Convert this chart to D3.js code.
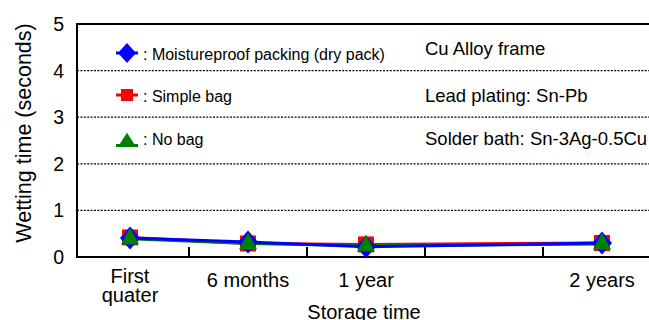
<!DOCTYPE html>
<html>
<head>
<meta charset="utf-8">
<script src="https://cdn.jsdelivr.net/npm/d3@7"></script>
<style>
  html, body { margin: 0; padding: 0; background: #fff; }
  svg { display: block; }
  text { font-family: "Liberation Sans", Arial, sans-serif; fill: #000; }
</style>
</head>
<body>
<svg id="chart" width="649" height="320"></svg>
<script>
// Storage periods (slot index on the x axis; slot 3 is an unused gap)
const periods = ["First quater", "6 months", "1 year", "2 years"];
const periodSlots = [0, 1, 2, 4];
const slotBoundaries = [0.5, 1.5, 2.5, 3.5];

// Wetting time in seconds for each packing condition
const dryPack = [0.41, 0.32, 0.22, 0.30];
const simpleBag = [0.42, 0.29, 0.27, 0.30];
const noBag = [0.39, 0.29, 0.24, 0.28];

const yTicks = [0, 1, 2, 3, 4, 5];
const seriesNames = [": Moistureproof packing (dry pack)", ": Simple bag", ": No bag"];
const notes = ["Cu Alloy frame", "Lead plating: Sn-Pb", "Solder bath: Sn-3Ag-0.5Cu"];

const svg = d3.select("#chart");
const plotLeft = 77, plotRight = 649, plotTop = 24, plotBottom = 257;

const x = d3.scaleLinear().domain([0, 4]).range([130, 602]);
const y = d3.scaleLinear().domain([0, 5]).range([plotBottom, plotTop]);

// dotted grid lines
svg.append("g").selectAll("line").data(yTicks.filter(v => v > 0 && v < 5)).join("line")
  .attr("x1", plotLeft).attr("x2", plotRight)
  .attr("y1", d => y(d)).attr("y2", d => y(d))
  .attr("stroke", "#000").attr("stroke-width", 1.3).attr("stroke-dasharray", "2,1.4");

// frame: top, left, bottom
svg.append("line").attr("x1", plotLeft).attr("x2", plotRight).attr("y1", plotTop).attr("y2", plotTop)
  .attr("stroke", "#000").attr("stroke-width", 2);
svg.append("line").attr("x1", plotLeft).attr("x2", plotLeft).attr("y1", plotTop - 1).attr("y2", plotBottom + 1)
  .attr("stroke", "#000").attr("stroke-width", 2);
svg.append("line").attr("x1", plotLeft - 1).attr("x2", plotRight).attr("y1", plotBottom).attr("y2", plotBottom)
  .attr("stroke", "#000").attr("stroke-width", 2);

// x tick marks between periods, pointing inward
svg.append("g").selectAll("line").data(slotBoundaries).join("line")
  .attr("x1", d => x(d)).attr("x2", d => x(d))
  .attr("y1", plotBottom).attr("y2", plotBottom - 10)
  .attr("stroke", "#000").attr("stroke-width", 2);

// y tick labels
svg.append("g").selectAll("text").data(yTicks).join("text")
  .attr("x", 64).attr("y", d => y(d) + 7)
  .attr("text-anchor", "end").attr("font-size", 19.5)
  .text(d => d);

// x tick labels
const xl = svg.append("g").selectAll("text").data(periods).join("text")
  .attr("text-anchor", "middle").attr("font-size", 20)
  .attr("x", (d, i) => x(periodSlots[i]))
  .attr("y", 287);
xl.each(function(d) {
  const t = d3.select(this);
  if (d === "First quater") {
    t.attr("y", 283);
    t.append("tspan").attr("x", t.attr("x")).text("First");
    t.append("tspan").attr("x", t.attr("x")).attr("dy", 18.5).text("quater");
  } else {
    t.text(d);
  }
});

// axis titles
svg.append("text").attr("x", 364).attr("y", 319).attr("text-anchor", "middle")
  .attr("font-size", 20).text("Storage time");
svg.append("text").attr("transform", "translate(31,133) rotate(-90)")
  .attr("text-anchor", "middle").attr("font-size", 21.5).text("Wetting time (seconds)");

// marker shapes
const diamond = (w, h) => `M0,${-h}L${w},0L0,${h}L${-w},0Z`;
const square = s => `M${-s},${-s}H${s}V${s}H${-s}Z`;
const triangle = (w, h) => `M0,${-h * 2 / 3}L${w},${h / 3}L${-w},${h / 3}Z`;

const series = [
  { name: seriesNames[1], values: simpleBag, color: "#ff0000", shape: square(8) , legendShape: square(6) },
  { name: seriesNames[2], values: noBag, color: "#008000", shape: triangle(9, 17), legendShape: triangle(9, 14) },
  { name: seriesNames[0], values: dryPack, color: "#0000ff", shape: diamond(10, 11.5), legendShape: diamond(9, 10) }
];

const line = d3.line().x((d, i) => x(periodSlots[i])).y(d => y(d));

svg.append("g").selectAll("path").data(series).join("path")
  .attr("d", s => line(s.values))
  .attr("fill", "none").attr("stroke", s => s.color).attr("stroke-width", 3);

// markers: red underneath, blue diamond, green triangle on top
const markerOrder = [series[0], series[2], series[1]];
markerOrder.forEach(s => {
  svg.append("g").selectAll("path").data(s.values).join("path")
    .attr("transform", (d, i) => `translate(${x(periodSlots[i])},${y(d)})`)
    .attr("d", s.shape).attr("fill", s.color);
});

// legend
const legendItems = [
  { s: series[2], cy: 53, ly: 53, ty: 59.5 },
  { s: series[0], cy: 95, ly: 95, ty: 101.5 },
  { s: series[1], cy: 142, ly: 145.5, ty: 145 }
];
legendItems.forEach(it => {
  svg.append("line").attr("x1", 116).attr("x2", 138).attr("y1", it.ly).attr("y2", it.ly)
    .attr("stroke", it.s.color).attr("stroke-width", 3);
  svg.append("path").attr("transform", `translate(127,${it.cy})`)
    .attr("d", it.s.legendShape).attr("fill", it.s.color);
  svg.append("text").attr("x", 143).attr("y", it.ty).attr("font-size", 16).text(it.s.name);
});

// specimen notes
[55, 101.5, 145].forEach((ty, i) => {
  svg.append("text").attr("x", 425).attr("y", ty).attr("font-size", 18.5).text(notes[i]);
});
</script>
</body>
</html>
